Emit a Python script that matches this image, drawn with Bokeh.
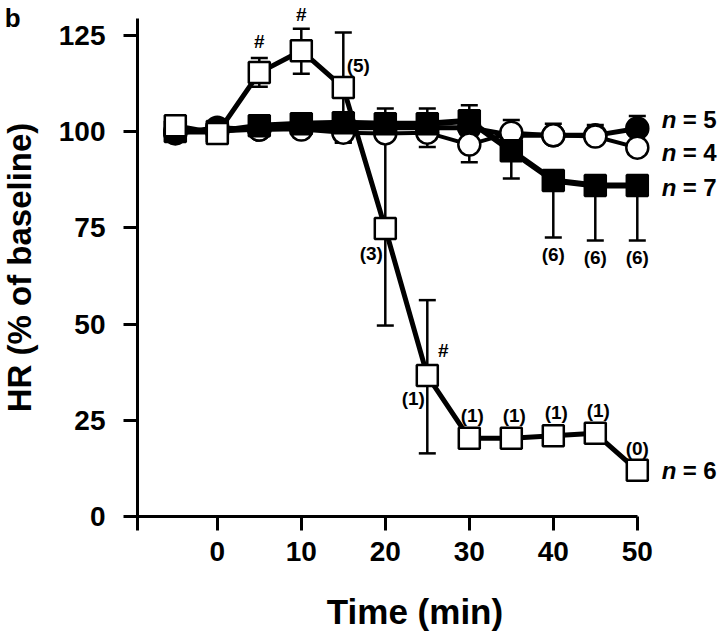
from bokeh.plotting import figure
from bokeh.models import ColumnDataSource, Whisker, FixedTicker, Label, TeeHead, LinearAxis
from bokeh.embed import file_html
from bokeh.resources import INLINE
from bokeh.core.properties import value

# ---------------- data ----------------
time = [-5, 0, 5, 10, 15, 20, 25, 30, 35, 40, 45, 50]

filled_circle = [99.5, 101, 100.5, 101, 101, 101, 101, 101, 99, 99, 99, 100.8]
fc_up = [0, 0, 0, 0, 0, 0, 0, 0, 0, 0, 0, 3.2]
fc_down = [0, 0, 0, 0, 0, 0, 0, 0, 0, 0, 0, 0]

open_circle = [100, 100, 100.5, 100.5, 99.7, 99.5, 99.7, 96.6, 99.7, 99, 98.7, 95.8]
oc_up = [0, 0, 0, 0, 0, 0, 0, 0, 3.3, 3, 3, 0]
oc_down = [0, 0, 0, 2, 2.5, 0, 3.7, 4.6, 0, 0, 0, 0]

filled_square = [100, 100, 101.5, 102, 102.3, 102, 102, 102.8, 95, 87.3, 86, 86]
fs_up = [0, 0, 0, 0, 0, 4, 4, 4, 0, 0, 0, 0]
fs_down = [0, 0, 0, 0, 0, 0, 0, 0, 7.2, 14.8, 14.3, 14.3]

open_square = [101.5, 99.5, 115.3, 121, 111.4, 74.8, 36.6, 20.3, 20.3, 21, 21.6, 12]
os_up = [0, 0, 3.8, 5.7, 14.3, 25, 19.6, 0, 0, 0, 0, 0]
os_down = [0, 0, 3.7, 6, 14.3, 25.2, 20.2, 0, 0, 0, 0, 0]

series_n = ["5", "4", "7", "6"]

x_ticks = [-9.5, 0, 10, 20, 30, 40, 50]
y_ticks = [0, 25, 50, 75, 100, 125]

FONT = "Liberation Sans"

p = figure(width=720, height=634, output_backend="svg", toolbar_location=None,
           x_range=(-25.81, 59.905), y_range=(-30.65, 134.03),
           min_border_left=0, min_border_right=0, min_border_top=0,
           min_border_bottom=0)
p.outline_line_color = None
p.grid.visible = False
p.background_fill_color = "white"

for ax in (p.xaxis[0], p.yaxis[0]):
    ax.axis_line_width = 3
    ax.major_tick_line_width = 3
    ax.major_tick_out = 14
    ax.major_tick_in = 0
    ax.minor_tick_line_color = None
    ax.major_label_text_font = FONT
    ax.major_label_text_font_style = "bold"
    ax.major_label_text_font_size = "28px"
    ax.major_label_text_color = "black"
    ax.axis_label_text_font = FONT
    ax.axis_label_text_font_style = "bold"
    ax.axis_label_text_color = "black"

p.xaxis.fixed_location = 0
p.xaxis.ticker = FixedTicker(ticks=x_ticks)
p.xaxis.major_label_overrides = {-9.5: ""}
p.xaxis.bounds = (-9.5, 50)
p.xaxis.major_label_standoff = 11

# axis carrying only the x title (offset to the right like the original)
title_axis = LinearAxis(fixed_location=0, bounds=(-3, 50), ticker=FixedTicker(ticks=[]),
                        axis_line_color=None, major_tick_out=0, major_tick_in=0,
                        minor_tick_line_color=None, major_tick_line_color=None,
                        axis_label="Time (min)", axis_label_standoff=75,
                        axis_label_text_font=FONT, axis_label_text_font_style="bold",
                        axis_label_text_font_size="35px", axis_label_text_color="black")
p.add_layout(title_axis, "below")

p.yaxis.fixed_location = -9.5
p.yaxis.ticker = FixedTicker(ticks=y_ticks)
p.yaxis.bounds = (0, 129.4)
p.yaxis.axis_label = "HR (% of baseline)"
p.yaxis.axis_label_text_font_size = "33px"
p.yaxis.major_label_standoff = 18
p.yaxis.axis_label_standoff = 18


def add_errors(vals, up, down):
    up_src = ColumnDataSource(dict(x=[t for t, u in zip(time, up) if u > 0],
                                   base=[v for v, u in zip(vals, up) if u > 0],
                                   top=[v + u for v, u in zip(vals, up) if u > 0]))
    dn_src = ColumnDataSource(dict(x=[t for t, d in zip(time, down) if d > 0],
                                   base=[v for v, d in zip(vals, down) if d > 0],
                                   bot=[v - d for v, d in zip(vals, down) if d > 0]))
    w1 = Whisker(source=up_src, base="x", lower="base", upper="top", dimension="height",
                 line_width=2.5, line_color="black",
                 upper_head=TeeHead(size=17, line_width=2.5, line_color="black"),
                 lower_head=None)
    w2 = Whisker(source=dn_src, base="x", lower="bot", upper="base", dimension="height",
                 line_width=2.5, line_color="black",
                 lower_head=TeeHead(size=17, line_width=2.5, line_color="black"),
                 upper_head=None)
    p.add_layout(w1)
    p.add_layout(w2)


add_errors(filled_circle, fc_up, fc_down)
add_errors(open_circle, oc_up, oc_down)
add_errors(filled_square, fs_up, fs_down)
add_errors(open_square, os_up, os_down)

# lines & markers
p.line(time, filled_circle, line_width=5, color="black")
p.scatter(time, filled_circle, marker="circle", size=22, fill_color="black",
          line_color="black", line_width=2.5)
p.line(time, open_circle, line_width=4, color="black")
p.scatter(time, open_circle, marker="circle", size=22, fill_color="white",
          line_color="black", line_width=2.5)
p.line(time, filled_square, line_width=6, color="black")
p.scatter(time, filled_square, marker="square", size=21, fill_color="black",
          line_color="black", line_width=2.5)
p.line(time, open_square, line_width=5, color="black")
p.scatter(time, open_square, marker="square", size=21, fill_color="white",
          line_color="black", line_width=2.5)


def note(x, y, txt, dx=0, dy=0, size="19px", align="center"):
    p.text([x], [y], text=[txt], x_offset=dx, y_offset=dy,
           text_font=value(FONT), text_font_style="bold", text_font_size=size,
           text_align=align, text_baseline="middle", text_color="black")


# significance marks
note(time[2], open_square[2] + os_up[2], "#", 0, -16, "19px")
note(time[3], open_square[3] + os_up[3], "#", 0, -14, "19px")
note(time[6], open_square[6] + os_up[6], "#", 16, 50, "19px")

# counts
note(time[4], open_square[4], "(5)", 15, -22)
note(time[5], open_square[5], "(3)", -14, 25)
note(time[6], open_square[6], "(1)", -14, 23)
for i in (7, 8, 9, 10):
    note(time[i], open_square[i], "(1)", 3, -23)
note(time[11], open_square[11], "(0)", 0, -22)
for i in (9, 10, 11):
    note(time[i], filled_square[i] - fs_down[i], "(6)", 0, 17)

# n labels
ends = [filled_circle[-1], open_circle[-1], filled_square[-1], open_square[-1]]
shifts = [-9, 5, 2, 0]
for lab, yv, sh in zip(series_n, ends, shifts):
    p.text([52.9], [yv], text=["n"], y_offset=sh, text_font=value(FONT),
           text_font_style="bold italic", text_font_size="24px",
           text_baseline="middle", text_align="left", text_color="black")
    p.text([52.9], [yv], text=["= " + lab], x_offset=21, y_offset=sh,
           text_font=value(FONT), text_font_style="bold", text_font_size="24px",
           text_baseline="middle", text_align="left", text_color="black")

p.add_layout(Label(x=-25.3, y=129.6, text="b", text_font=FONT, text_font_style="bold",
                   text_font_size="26px", text_baseline="middle", text_align="left",
                   text_color="black"))

open("out.html", "w").write(file_html(p, INLINE))
